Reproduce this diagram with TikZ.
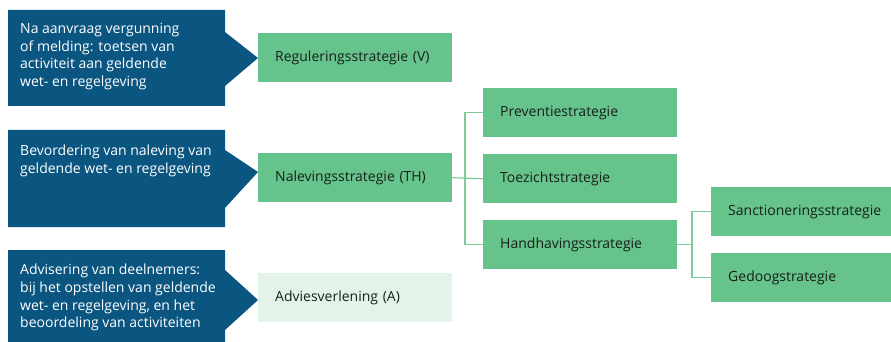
\documentclass[tikz,border=0pt]{standalone}
\usepackage{fontspec}
\setmainfont{Open Sans}
\usepackage{tikz}
\usetikzlibrary{positioning,calc}

\definecolor{taakblauw}{HTML}{0B5581}
\definecolor{strgroen}{HTML}{66C38B}
\definecolor{lichtgroen}{HTML}{E4F3E7}
\definecolor{lijngroen}{HTML}{7DCB99}
\definecolor{tekstdonker}{HTML}{16211A}

\tikzset{
    strategie/.style={fill=strgroen, text=tekstdonker, minimum height=49pt, inner sep=0pt,
        anchor=north west, align=left, font=\fontsize{14}{16}\selectfont},
    taaktekst/.style={text=white, anchor=north west, inner sep=0pt, align=left,
        font=\fontsize{14}{17.6}\selectfont},
    tak/.style={draw=lijngroen, line width=1.2pt}
}

\begin{document}
\begin{tikzpicture}[x=1pt, y=-1pt]
    \useasboundingbox (0,0) rectangle (891,342);

    % taakvelden
    \fill [taakblauw] (8,10) -- (225,10) -- (225,32) -- (258,58) -- (225,86) -- (225,106) -- (8,106) -- cycle;
    \fill [taakblauw] (8,130) -- (225,130) -- (225,150) -- (258,172) -- (225,208) -- (225,227) -- (8,227) -- cycle;
    \fill [taakblauw] (8,250) -- (225,250) -- (225,270) -- (258,300) -- (225,330) -- (225,342) -- (8,342) -- cycle;

    \node [taaktekst] (vergunning) at (20,23) {Na aanvraag vergunning\\of melding: toetsen van\\activiteit aan geldende\\wet- en regelgeving};
    \node [taaktekst] (bevordering) at (20,145) {Bevordering van naleving van\\geldende wet- en regelgeving};
    \node [taaktekst] (advisering) at (20,264) {Advisering van deelnemers:\\bij het opstellen van geldende\\wet- en regelgeving, en het\\beoordeling van activiteiten};

    % strategieen
    \node [strategie, minimum width=194pt, text width=160pt] (regulering) at (258,33) {Reguleringsstrategie (V)};
    \node [strategie, minimum width=194pt, text width=160pt] (naleving) at (258,153) {Nalevingsstrategie (TH)};
    \node [strategie, fill=lichtgroen, minimum width=194pt, text width=160pt] (advies) at (258,273) {Adviesverlening (A)};

    \node [strategie, minimum width=194pt, text width=160pt] (preventie) at (483,88) {Preventiestrategie};
    \node [strategie, minimum width=194pt, text width=160pt] (toezicht) at (483,154) {Toezichtstrategie};
    \node [strategie, minimum width=194pt, text width=160pt] (handhaving) at (483,220) {Handhavingsstrategie};

    \node [strategie, minimum width=185pt, text width=151pt] (sanctie) at (711,187) {Sanctioneringsstrategie};
    \node [strategie, minimum width=185pt, text width=151pt] (gedoog) at (711,253) {Gedoogstrategie};

    % vertakkingen
    \coordinate (splitsTH) at (465,0);
    \coordinate (splitsH) at (692,0);
    \draw [tak] (naleving.east) -- (toezicht.west);
    \draw [tak] (preventie.west) -| (splitsTH |- handhaving.west) -- (handhaving.west);
    \draw [tak] (handhaving.east) -- (splitsH |- handhaving.east);
    \draw [tak] (sanctie.west) -| (splitsH |- gedoog.west) -- (gedoog.west);
\end{tikzpicture}
\end{document}
